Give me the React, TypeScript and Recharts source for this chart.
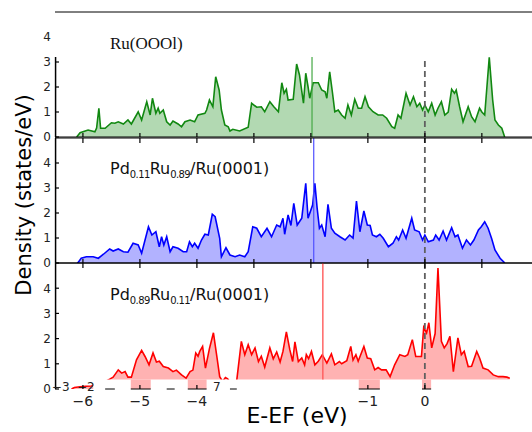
import React from "react"
import { ComposedChart, Area, XAxis, YAxis, ReferenceLine, ReferenceArea, ReferenceDot } from "recharts"

const energyRange: [number, number] = [-6.49, 1.88]
const energyTicks = [-6, -5, -4, -3, -2, -1, 0, 1]
const labelledEnergyTicks = [-6, -5, -4, -1, 0]
const dosTicks = [0, 1, 2, 3, 4]

// Ru(0001)
const ruEnergy = [
  -6.11, -6.05, -5.91, -5.79, -5.76, -5.72, -5.69, -5.61, -5.5, -5.44,
  -5.38, -5.29, -5.21, -5.15, -5.03, -4.97, -4.88, -4.82, -4.78, -4.72,
  -4.68, -4.65, -4.59, -4.53, -4.47, -4.42, -4.33, -4.27, -4.21, -4.12,
  -4.04, -3.98, -3.86, -3.83, -3.78, -3.72, -3.67, -3.61, -3.57, -3.51,
  -3.45, -3.42, -3.37, -3.25, -3.1, -3.04, -2.95, -2.87, -2.81, -2.72,
  -2.65, -2.57, -2.51, -2.47, -2.43, -2.4, -2.31, -2.25, -2.2, -2.13,
  -2.09, -2.05, -2.02, -1.96, -1.87, -1.81, -1.75, -1.72, -1.67, -1.62,
  -1.58, -1.52, -1.46, -1.4, -1.35, -1.29, -1.23, -1.17, -1.11, -1.05,
  -0.99, -0.91, -0.82, -0.74, -0.67, -0.58, -0.53, -0.47, -0.42, -0.33,
  -0.26, -0.2, -0.14, -0.09, -0.04, 0, 0.06, 0.12, 0.18, 0.23,
  0.29, 0.35, 0.41, 0.47, 0.52, 0.55, 0.61, 0.67, 0.76, 0.82,
  0.88, 0.96, 1.0, 1.05, 1.13, 1.19, 1.23, 1.29, 1.35, 1.4,
]
const ruDos = [
  0, 0.17, 0.28, 0.21, 0.36, 1.15, 0.35, 0.35, 0.57, 0.55,
  0.61, 0.52, 0.68, 0.52, 1.01, 0.68, 1.41, 0.88, 1.55, 0.95,
  1.15, 0.95, 1.08, 0.61, 0.48, 0.64, 0.52, 0.41, 0.61, 0.68,
  0.61, 0.88, 0.95, 1.08, 1.48, 1.21, 2.41, 1.88, 1.08, 0.48,
  0.41, 0.24, 0.31, 0.24, 0.39, 1.35, 1.19, 1.21, 1.01, 1.41,
  1.21, 1.01, 2.17, 1.75, 1.91, 1.48, 1.51, 2.92, 2.48, 1.35,
  2.55, 2.01, 1.55, 2.17, 2.17, 1.88, 1.81, 1.55, 2.61, 1.75,
  1.01, 1.08, 0.88, 0.75, 1.28, 0.88, 1.51, 1.15, 1.15, 1.61,
  1.21, 1.01, 0.88, 0.88, 0.75, 0.41, 0.35, 0.88, 0.75, 1.75,
  1.28, 1.61, 1.21, 1.35, 1.08, 1.28, 1.01, 1.35, 0.88, 1.15,
  1.41, 0.88, 1.0, 1.91, 1.75, 1.88, 1.21, 0.61, 1.21, 0.81,
  0.61, 1.15, 1.0, 0.88, 3.19, 1.48, 0.68, 0.48, 0.35, 0,
]

// Pd0.11Ru0.89/Ru(0001)
const pd11Energy = [
  -6.1, -6.08, -6.03, -5.94, -5.82, -5.73, -5.64, -5.53, -5.47, -5.38,
  -5.29, -5.21, -5.12, -5.03, -4.97, -4.85, -4.79, -4.72, -4.66, -4.62,
  -4.58, -4.53, -4.47, -4.42, -4.33, -4.24, -4.18, -4.13, -4.08, -4.04,
  -3.98, -3.92, -3.86, -3.8, -3.73, -3.68, -3.6, -3.57, -3.49, -3.42,
  -3.33, -3.25, -3.16, -3.1, -3.02, -2.95, -2.87, -2.77, -2.69, -2.6,
  -2.54, -2.49, -2.46, -2.4, -2.35, -2.3, -2.24, -2.16, -2.09, -2.05,
  -1.97, -1.93, -1.89, -1.85, -1.81, -1.75, -1.7, -1.64, -1.58, -1.49,
  -1.4, -1.32, -1.26, -1.2, -1.14, -1.07, -1.01, -0.96, -0.92, -0.85,
  -0.79, -0.73, -0.64, -0.56, -0.5, -0.46, -0.39, -0.33, -0.23, -0.18,
  -0.1, -0.04, 0, 0.06, 0.15, 0.19, 0.25, 0.32, 0.38, 0.47,
  0.53, 0.58, 0.66, 0.73, 0.8, 0.86, 0.94, 0.99, 1.05, 1.11,
  1.17, 1.23, 1.32, 1.39, 1.4,
]
const pd11Dos = [
  0, 0.03, 0.19, 0.25, 0.25, 0.19, 0.35, 0.56, 0.48, 0.56,
  0.45, 0.43, 0.79, 0.72, 0.39, 1.45, 1.12, 1.25, 0.65, 1.05,
  0.72, 1.05, 0.45, 0.65, 0.59, 0.45, 0.45, 0.85, 0.65, 0.79,
  0.59, 0.92, 1.15, 1.12, 1.95, 1.85, 0.99, 0.25, 0.61, 0.32,
  0.25, 0.32, 0.25, 0.45, 1.45, 1.39, 1.05, 1.39, 1.05, 1.52,
  1.45, 1.79, 1.15, 1.92, 1.5, 2.39, 1.52, 1.79, 3.19, 1.79,
  2.32, 3.19, 2.19, 1.39, 1.52, 1.05, 2.35, 1.39, 1.19, 1.05,
  0.92, 1.12, 1.0, 2.48, 1.25, 2.08, 1.52, 1.5, 1.12, 1.05,
  1.15, 0.99, 0.65, 0.79, 1.05, 0.92, 1.32, 0.99, 1.79, 1.32,
  1.25, 0.92, 1.12, 0.85, 0.92, 1.12, 0.92, 1.28, 0.92, 1.41,
  1.05, 1.12, 0.59, 0.92, 0.72, 0.92, 1.32, 1.45, 1.65, 1.39,
  0.99, 0.52, 0.19, 0.03, 0,
]

// Pd0.89Ru0.11/Ru(0001)
const pd89Energy = [
  -6.2, -6.15, -6.05, -5.95, -5.85, -5.75, -5.65, -5.58, -5.53, -5.47,
  -5.38, -5.32, -5.26, -5.21, -5.15, -5.06, -4.97, -4.91, -4.84, -4.77,
  -4.71, -4.66, -4.59, -4.5, -4.42, -4.36, -4.27, -4.19, -4.12, -4.07,
  -4.02, -3.98, -3.95, -3.9, -3.85, -3.78, -3.71, -3.65, -3.6, -3.55,
  -3.5, -3.46, -3.4, -3.33, -3.3, -3.22, -3.16, -3.1, -3.04, -2.98,
  -2.92, -2.87, -2.81, -2.72, -2.66, -2.6, -2.54, -2.49, -2.43, -2.37,
  -2.32, -2.28, -2.22, -2.16, -2.11, -2.08, -2.04, -1.99, -1.93, -1.87,
  -1.8, -1.72, -1.64, -1.58, -1.5, -1.46, -1.37, -1.3, -1.26, -1.21,
  -1.17, -1.07, -1.01, -0.95, -0.88, -0.82, -0.76, -0.68, -0.61, -0.53,
  -0.44, -0.35, -0.3, -0.22, -0.16, -0.06, -0.02, 0.03, 0.07, 0.12,
  0.18, 0.23, 0.29, 0.34, 0.39, 0.44, 0.5, 0.58, 0.64, 0.69,
  0.76, 0.82, 0.91, 0.96, 1.02, 1.11, 1.2, 1.29, 1.37, 1.44,
  1.49,
]
const pd89Dos = [
  0, 0.06, 0.09, 0.11, 0.12, 0.2, 0.28, 0.33, 0.39, 0.47,
  0.76, 0.63, 0.69, 0.47, 0.47, 1.16, 1.53, 1.29, 0.96, 1.43,
  1.07, 1.1, 0.89, 0.83, 0.69, 0.75, 0.56, 0.43, 0.69, 0.75,
  1.43, 1.3, 1.49, 1.69, 0.83, 1.6, 2.23, 1.29, 0.49, 0.3,
  0.45, 0.4, 0.2, 0.25, 0.36, 1.89, 1.36, 1.76, 1.36, 1.63,
  1.09, 1.3, 0.87, 1.63, 1.2, 1.47, 1.07, 1.49, 2.27, 1.56,
  1.09, 1.87, 1.09, 1.23, 0.96, 1.36, 1.2, 1.49, 0.96, 1.1,
  1.36, 1.03, 1.39, 0.96, 1.09, 1.0, 1.12, 1.69, 1.15, 1.36,
  1.1, 1.69, 1.23, 1.2, 0.76, 0.85, 0.76, 0.76, 0.49, 0.96,
  1.36, 1.29, 1.36, 1.96, 1.29, 1.29, 2.45, 2.23, 2.63, 1.63,
  2.2, 4.8, 1.89, 1.63, 1.8, 2.09, 0.69, 2.03, 1.36, 1.5,
  0.89, 0.9, 1.49, 1.23, 0.83, 0.76, 0.56, 0.49, 0.49, 0.47,
  0.43,
]

// d-band centres
const ruCentre = -1.98
const pd11Centre = -1.95
const pd89Centre = -1.79
const topPanelCut = 3.2

// what is left of the broken bottom axis
const maskTop = 0.38
const maskStart = -5.82
const patchStarts = [-5.16, -4.16, -1.16, -0.05]
const patchEnds = [-4.81, -3.83, -0.79, 0.11]
const axisPieceStarts = [-5.61, -5.16, -4.53, -4.16, -3.42, -1.16, -0.05]
const axisPieceEnds = [-5.44, -4.81, -4.39, -3.83, -3.3, -0.79, 0.11]
const strayLabels = ["−3", "−2", "7"]
const strayEnergy = [-6.39, -5.95, -3.65]
const strayLevel = 0.1

const sans = "'DejaVu Sans', sans-serif"
const W = 532

const toRows = (energy: number[], dos: number[]) => energy.map((e, i) => ({ e, v: dos[i] }))
const fmt = (v: number) => (v < 0 ? `−${-v}` : `${v}`)

const leftTick = (markUpTo: number) => (p: any) => {
  const v = p.payload.value
  return (
    <g>
      {v <= markUpTo && <line x1={p.x} y1={p.y} x2={p.x + 4} y2={p.y} stroke="#000" strokeWidth={1.2} />}
      <text x={p.x - 4} y={p.y} dy="0.36em" textAnchor="end" fontSize={12} fontFamily={sans} fill="#222">
        {v}
      </text>
    </g>
  )
}

const bottomTick = (labelled: boolean) => (p: any) => {
  const v = p.payload.value
  const show = !labelled || labelledEnergyTicks.includes(v)
  if (!show) return <g />
  return (
    <g>
      <line x1={p.x} y1={p.y} x2={p.x} y2={p.y - 4} stroke="#000" strokeWidth={1.2} />
      {labelled && (
        <text x={p.x} y={p.y + 17} textAnchor="middle" fontSize={14} fontFamily={sans} fill="#222">
          {fmt(v)}
        </text>
      )}
    </g>
  )
}

const topTick = (p: any) => <line x1={p.x} y1={p.y} x2={p.x} y2={p.y + 5} stroke="#000" strokeWidth={1.2} />

const xCommon = {
  dataKey: "e",
  type: "number" as const,
  domain: energyRange,
  ticks: energyTicks,
  interval: 0,
  height: 1,
  tickSize: 0,
  tickMargin: 0,
  tickLine: false,
  allowDataOverflow: true,
}

const yCommon = {
  type: "number" as const,
  domain: [0, 5],
  ticks: dosTicks,
  interval: 0,
  width: 55,
  tickSize: 0,
  tickMargin: 0,
  tickLine: false,
  allowDataOverflow: true,
}

const zeroLine = { stroke: "#606060", strokeWidth: 1.8, strokeDasharray: "6 4" }
// left spine, one pixel inside the plot so it is not cut by the plot edge
const spineX = energyRange[0] + 0.01
const leftSpine = (top: number) => (
  <ReferenceLine segment={[{ x: spineX, y: 0 }, { x: spineX, y: top }]} stroke="#000" strokeWidth={1.5} ifOverflow="visible" />
)

export default function App() {
  return (
    <div style={{ position: "absolute", left: 0, top: 0, width: W, height: 432, overflow: "hidden", background: "#fff" }}>
      <div style={{ position: "absolute", left: 0, top: 6 }}>
        <ComposedChart width={W} height={137} data={toRows(ruEnergy, ruDos)} margin={{ top: 5, right: 0, bottom: 5, left: 0 }}>
          <Area type="linear" dataKey="v" stroke="#118811" strokeWidth={1.6} fill="#008000" fillOpacity={0.3} dot={false} activeDot={false} isAnimationActive={false} />
          <ReferenceLine segment={[{ x: ruCentre, y: 0 }, { x: ruCentre, y: topPanelCut }]} stroke="#44a844" strokeWidth={1.2} />
          <ReferenceLine segment={[{ x: 0, y: 0 }, { x: 0, y: topPanelCut }]} {...zeroLine} />
          {leftSpine(topPanelCut)}
          <XAxis {...xCommon} axisLine={{ stroke: "#000" }} tick={bottomTick(false)} />
          <XAxis {...xCommon} xAxisId="top" orientation="top" axisLine={{ stroke: "#000" }} tick={false} />
          <YAxis {...yCommon} axisLine={false} tick={leftTick(3)} />
        </ComposedChart>
      </div>

      <div style={{ position: "absolute", left: 0, top: 132 }}>
        <ComposedChart width={W} height={137} data={toRows(pd11Energy, pd11Dos)} margin={{ top: 5, right: 0, bottom: 5, left: 0 }}>
          <Area type="linear" dataKey="v" stroke="#0000ff" strokeWidth={1.6} fill="#0000ff" fillOpacity={0.3} dot={false} activeDot={false} isAnimationActive={false} />
          <ReferenceLine x={pd11Centre} stroke="#5050ff" strokeWidth={1.2} />
          <ReferenceLine x={0} {...zeroLine} />
          {leftSpine(5)}
          <XAxis {...xCommon} axisLine={{ stroke: "#000" }} tick={bottomTick(false)} />
          <XAxis {...xCommon} xAxisId="top" orientation="top" axisLine={{ stroke: "#000" }} tick={topTick} />
          <YAxis {...yCommon} axisLine={false} tick={leftTick(4)} />
        </ComposedChart>
      </div>

      <div style={{ position: "absolute", left: 0, top: 257 }}>
        <ComposedChart width={W} height={157} data={toRows(pd89Energy, pd89Dos)} margin={{ top: 5, right: 0, bottom: 24, left: 0 }}>
          <Area type="linear" dataKey="v" stroke="#ff0000" strokeWidth={1.6} fill="#ff0000" fillOpacity={0.3} dot={false} activeDot={false} isAnimationActive={false} />
          <ReferenceArea x1={maskStart} x2={energyRange[1]} y1={0} y2={maskTop} fill="#fff" fillOpacity={1} stroke="none" />
          {patchStarts.map((s, i) => (
            <ReferenceArea key={`p${i}`} x1={s} x2={patchEnds[i]} y1={0} y2={maskTop} fill="#ffb3b3" fillOpacity={1} stroke="none" />
          ))}
          <ReferenceLine segment={[{ x: pd89Centre, y: maskTop }, { x: pd89Centre, y: 5 }]} stroke="#ff5a5a" strokeWidth={1.4} />
          <ReferenceLine x={0} {...zeroLine} />
          {leftSpine(5)}
          {axisPieceStarts.map((s, i) => (
            <ReferenceLine key={`a${i}`} segment={[{ x: s, y: 0 }, { x: axisPieceEnds[i], y: 0 }]} stroke="#000" />
          ))}
          {strayLabels.map((t, i) => (
            <ReferenceDot key={`s${i}`} x={strayEnergy[i]} y={strayLevel} r={0} fill="none" stroke="none"
              label={{ value: t, position: "center", fontSize: 12, fontFamily: sans, fill: "#222" }} />
          ))}
          <XAxis {...xCommon} axisLine={false} tick={bottomTick(true)} />
          <XAxis {...xCommon} xAxisId="top" orientation="top" axisLine={{ stroke: "#000" }} tick={topTick} />
          <YAxis {...yCommon} axisLine={false} tick={leftTick(4)} />
        </ComposedChart>
      </div>

      <div style={{ position: "absolute", left: 110, top: 34, fontFamily: "'Liberation Serif', serif", fontSize: 17, lineHeight: "20px", color: "#111" }}>
        Ru(OOOl)
      </div>
      <div style={{ position: "absolute", left: 110, top: 159, fontFamily: sans, fontSize: 16, lineHeight: "20px", color: "#111", whiteSpace: "nowrap" }}>
        Pd<span style={{ fontSize: 10, position: "relative", top: 4, letterSpacing: -0.6 }}>0.11</span>Ru
        <span style={{ fontSize: 10, position: "relative", top: 4, letterSpacing: -0.6 }}>0.89</span>/Ru(0001)
      </div>
      <div style={{ position: "absolute", left: 110, top: 285, fontFamily: sans, fontSize: 16, lineHeight: "20px", color: "#111", whiteSpace: "nowrap" }}>
        Pd<span style={{ fontSize: 10, position: "relative", top: 4, letterSpacing: -0.6 }}>0.89</span>Ru
        <span style={{ fontSize: 10, position: "relative", top: 4, letterSpacing: -0.6 }}>0.11</span>/Ru(0001)
      </div>
      <div style={{ position: "absolute", left: -86, top: 182, width: 220, height: 26, lineHeight: "26px", textAlign: "center", transform: "rotate(-90deg)", fontFamily: sans, fontSize: 21, color: "#000", whiteSpace: "nowrap" }}>
        Density (states/eV)
      </div>
      <div style={{ position: "absolute", left: 197, top: 403, width: 200, height: 26, lineHeight: "26px", textAlign: "center", fontFamily: sans, fontSize: 22, color: "#000", whiteSpace: "nowrap" }}>
        E-EF (eV)
      </div>
    </div>
  )
}
